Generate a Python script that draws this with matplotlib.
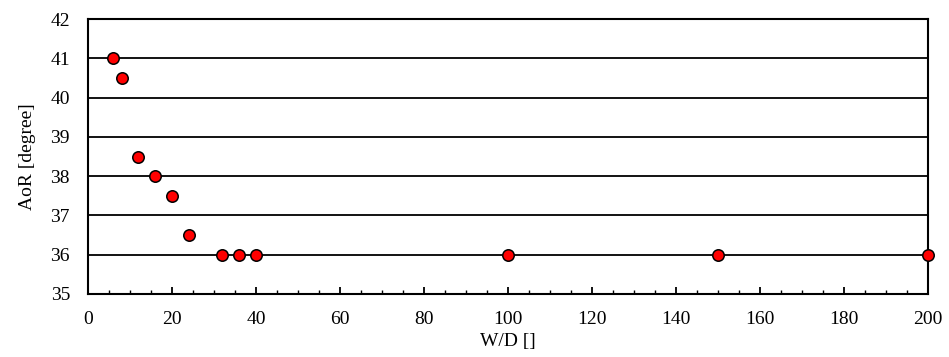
import matplotlib
matplotlib.use("Agg")
import matplotlib.pyplot as plt
from matplotlib.ticker import MultipleLocator

wd = [6, 8, 12, 16, 20, 24, 32, 36, 40, 100, 150, 200]
aor = [41, 40.5, 38.5, 38, 37.5, 36.5, 36, 36, 36, 36, 36, 36]

plt.rcParams['font.family'] = ['Liberation Serif']
fig = plt.figure(figsize=(9.49, 3.57), dpi=100)
ax = fig.add_axes([88/949, 1 - 294/357, (928-88)/949, (294-19)/357])
ax.set_xlim(0, 200)
ax.set_ylim(35, 42)
ax.xaxis.set_major_locator(MultipleLocator(20))
ax.xaxis.set_minor_locator(MultipleLocator(5))
ax.yaxis.set_major_locator(MultipleLocator(1))
ax.grid(axis='y', color='black', linewidth=1.3)
ax.set_axisbelow(True)
for s in ax.spines.values():
    s.set_linewidth(1.5)
ax.tick_params(axis='x', which='major', direction='in', length=5, width=1.3, labelsize=14, pad=12)
ax.tick_params(axis='x', which='minor', direction='in', length=3, width=1.0)
ax.tick_params(axis='y', which='major', length=0, labelsize=14, pad=13)
ax.scatter(wd, aor, s=68, facecolor='#ff0000', edgecolor='black', linewidth=1.1, zorder=3, clip_on=False)
ax.set_xlabel('W/D []', fontsize=14, labelpad=4)
ax.set_ylabel('AoR [degree]', fontsize=14, labelpad=10)
fig.savefig('out.png', dpi=100)
